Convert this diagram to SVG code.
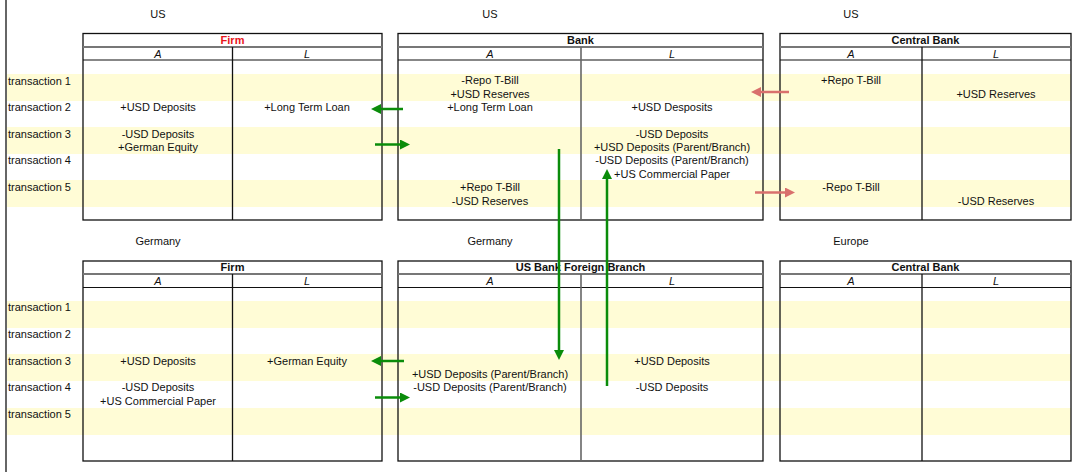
<svg xmlns="http://www.w3.org/2000/svg" width="1081" height="472" viewBox="0 0 1081 472">
<style>
  text { font-family: "Liberation Sans", Arial, sans-serif; font-size: 11px; fill: #111; }
  .c { text-anchor: middle; }
  .title { font-weight: bold; text-anchor: middle; }
  .hdr { font-style: italic; text-anchor: middle; }
  .band { fill: #fffcd6; }
  .frame { fill: none; stroke: #111; stroke-width: 1.3; }
  .sep { stroke: #777; stroke-width: 2; }
  .hline { stroke: #111; stroke-width: 1.2; }
  .div { stroke: #111; stroke-width: 1.3; }
  .divg { stroke: #666; stroke-width: 1.6; }
  .g { stroke: #0a8c0a; stroke-width: 2.5; fill: none; }
  .r { stroke: #d9706d; stroke-width: 2.5; fill: none; }
</style>
<defs>
  <marker id="ag" viewBox="0 0 10 10" refX="5" refY="5" markerWidth="11" markerHeight="10" markerUnits="userSpaceOnUse" orient="auto">
    <path d="M0,0 L10,5 L0,10 z" fill="#0a8c0a"/>
  </marker>
  <marker id="ar" viewBox="0 0 10 10" refX="5" refY="5" markerWidth="11" markerHeight="10" markerUnits="userSpaceOnUse" orient="auto">
    <path d="M0,0 L10,5 L0,10 z" fill="#d9706d"/>
  </marker>
</defs>
<rect x="0" y="0" width="1081" height="472" fill="#fff"/>
<line x1="6" y1="0" x2="6" y2="472" stroke="#333" stroke-width="1.5"/>

<g id="bands">
  <rect class="band" x="7" y="74" width="1064" height="27"/>
  <rect class="band" x="7" y="127" width="1064" height="27"/>
  <rect class="band" x="7" y="180" width="1064" height="27"/>
  <rect class="band" x="7" y="301" width="1064" height="27"/>
  <rect class="band" x="7" y="354" width="1064" height="27"/>
  <rect class="band" x="7" y="408" width="1064" height="27"/>
</g>

<g id="row-labels">
  <text x="8" y="85">transaction 1</text>
  <text x="8" y="111">transaction 2</text>
  <text x="8" y="138">transaction 3</text>
  <text x="8" y="164">transaction 4</text>
  <text x="8" y="191">transaction 5</text>
  <text x="8" y="311">transaction 1</text>
  <text x="8" y="338">transaction 2</text>
  <text x="8" y="365">transaction 3</text>
  <text x="8" y="391">transaction 4</text>
  <text x="8" y="418">transaction 5</text>
</g>

<g id="region-labels">
  <text class="c" x="158" y="18">US</text>
  <text class="c" x="490" y="18">US</text>
  <text class="c" x="851" y="18">US</text>
  <text class="c" x="158" y="245">Germany</text>
  <text class="c" x="490" y="245">Germany</text>
  <text class="c" x="851" y="245">Europe</text>
</g>

<g id="us-firm">
  <rect class="frame" x="83" y="33.5" width="299" height="186.5"/>
  <line class="sep" x1="83" y1="47" x2="382" y2="47"/>
  <line class="hline" x1="83" y1="60" x2="382" y2="60"/>
  <line class="div" x1="232.5" y1="47" x2="232.5" y2="220"/>
  <text class="title" x="232.5" y="44" style="fill:#e8141b">Firm</text>
  <text class="hdr" x="158" y="58">A</text>
  <text class="hdr" x="307" y="58">L</text>
  <text class="c" x="158" y="111">+USD Deposits</text>
  <text class="c" x="307" y="111">+Long Term Loan</text>
  <text class="c" x="158" y="138">-USD Deposits</text>
  <text class="c" x="158" y="151">+German Equity</text>
</g>

<g id="us-bank">
  <rect class="frame" x="398" y="33.5" width="365" height="186.5"/>
  <line class="sep" x1="398" y1="47" x2="763" y2="47"/>
  <line class="hline" x1="398" y1="60" x2="763" y2="60"/>
  <line class="divg" x1="581" y1="47" x2="581" y2="220"/>
  <text class="title" x="580.5" y="44">Bank</text>
  <text class="hdr" x="490" y="58">A</text>
  <text class="hdr" x="672" y="58">L</text>
  <text class="c" x="490" y="84">-Repo T-Bill</text>
  <text class="c" x="490" y="98">+USD Reserves</text>
  <text class="c" x="490" y="111">+Long Term Loan</text>
  <text class="c" x="672" y="111">+USD Desposits</text>
  <text class="c" x="672" y="138">-USD Deposits</text>
  <text class="c" x="672" y="151">+USD Deposits (Parent/Branch)</text>
  <text class="c" x="672" y="164">-USD Deposits (Parent/Branch)</text>
  <text class="c" x="672" y="178">+US Commercial Paper</text>
  <text class="c" x="490" y="191">+Repo T-Bill</text>
  <text class="c" x="490" y="205">-USD Reserves</text>
</g>

<g id="us-central-bank">
  <rect class="frame" x="780" y="33.5" width="291" height="186.5"/>
  <line class="sep" x1="780" y1="47" x2="1071" y2="47"/>
  <line class="hline" x1="780" y1="60" x2="1071" y2="60"/>
  <line class="div" x1="922" y1="47" x2="922" y2="220"/>
  <text class="title" x="925.5" y="44">Central Bank</text>
  <text class="hdr" x="851" y="58">A</text>
  <text class="hdr" x="996" y="58">L</text>
  <text class="c" x="851" y="84">+Repo T-Bill</text>
  <text class="c" x="996" y="98">+USD Reserves</text>
  <text class="c" x="851" y="191">-Repo T-Bill</text>
  <text class="c" x="996" y="205">-USD Reserves</text>
</g>

<g id="de-firm">
  <rect class="frame" x="83" y="261" width="299" height="200"/>
  <line class="sep" x1="83" y1="274" x2="382" y2="274"/>
  <line class="hline" x1="83" y1="287.5" x2="382" y2="287.5"/>
  <line class="div" x1="232.5" y1="274" x2="232.5" y2="461"/>
  <text class="title" x="232.5" y="271">Firm</text>
  <text class="hdr" x="158" y="285">A</text>
  <text class="hdr" x="307" y="285">L</text>
  <text class="c" x="158" y="365">+USD Deposits</text>
  <text class="c" x="307" y="365">+German Equity</text>
  <text class="c" x="158" y="391">-USD Deposits</text>
  <text class="c" x="158" y="405">+US Commercial Paper</text>
</g>

<g id="de-bank-branch">
  <rect class="frame" x="398" y="261" width="365" height="200"/>
  <line class="sep" x1="398" y1="274" x2="763" y2="274"/>
  <line class="hline" x1="398" y1="287.5" x2="763" y2="287.5"/>
  <line class="divg" x1="581" y1="274" x2="581" y2="461"/>
  <text class="title" x="580.5" y="271">US Bank Foreign Branch</text>
  <text class="hdr" x="490" y="285">A</text>
  <text class="hdr" x="672" y="285">L</text>
  <text class="c" x="672" y="365">+USD Deposits</text>
  <text class="c" x="490" y="378">+USD Deposits (Parent/Branch)</text>
  <text class="c" x="490" y="391">-USD Deposits (Parent/Branch)</text>
  <text class="c" x="672" y="391">-USD Deposits</text>
</g>

<g id="eu-central-bank">
  <rect class="frame" x="780" y="261" width="291" height="200"/>
  <line class="sep" x1="780" y1="274" x2="1071" y2="274"/>
  <line class="hline" x1="780" y1="287.5" x2="1071" y2="287.5"/>
  <line class="div" x1="922" y1="274" x2="922" y2="461"/>
  <text class="title" x="925.5" y="271">Central Bank</text>
  <text class="hdr" x="851" y="285">A</text>
  <text class="hdr" x="996" y="285">L</text>
</g>

<g id="connectors">
  <path class="g" d="M403,109 H376" marker-end="url(#ag)"/>
  <path class="g" d="M375,144.5 H405" marker-end="url(#ag)"/>
  <path class="r" d="M789,92 H756" marker-end="url(#ar)"/>
  <path class="r" d="M755,192.5 H790" marker-end="url(#ar)"/>
  <path class="g" d="M559,149 V355" marker-end="url(#ag)"/>
  <path class="g" d="M607,386 V174" marker-end="url(#ag)"/>
  <path class="g" d="M404,361 H376" marker-end="url(#ag)"/>
  <path class="g" d="M375,397.5 H405" marker-end="url(#ag)"/>
</g>
</svg>
